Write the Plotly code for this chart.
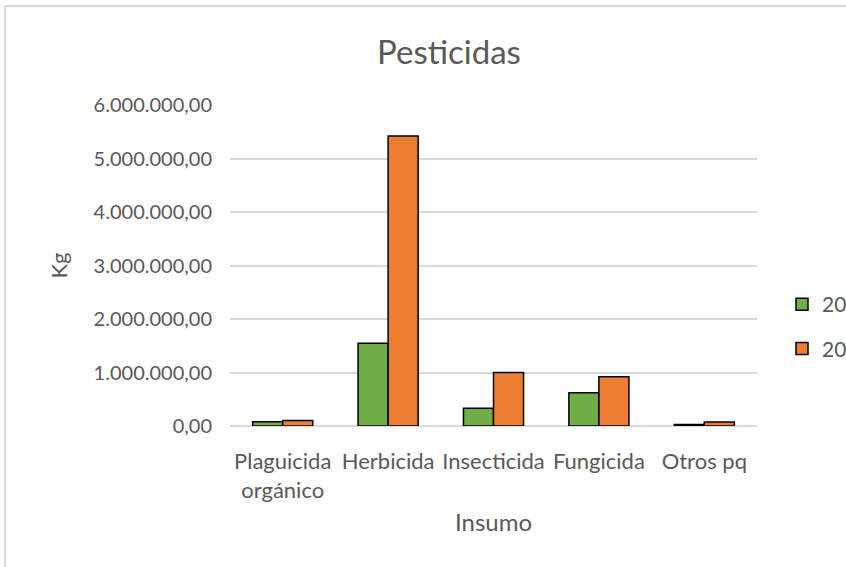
import plotly.graph_objects as go

categories = ["Plaguicida<br>orgánico", "Herbicida", "Insecticida", "Fungicida", "Otros pq"]
series_names = ["2020", "2021"]
values_a = [80000, 1545000, 330000, 620000, 30000]
values_b = [105000, 5420000, 1000000, 920000, 75000]
y_ticks = [0, 1000000, 2000000, 3000000, 4000000, 5000000, 6000000]

FONT = "Lato, Noto Sans, sans-serif"
GREY = "#595959"

fig = go.Figure()
fig.add_trace(go.Bar(x=categories, y=values_a, name=series_names[0],
                     marker=dict(color="#70ad47", line=dict(color="black", width=1.5)),
                     legendgroup="a"))
fig.add_trace(go.Bar(x=categories, y=values_b, name=series_names[1],
                     marker=dict(color="#ed7d31", line=dict(color="black", width=1.5)),
                     legendgroup="b"))

W, H = 846, 567
L, R, T, B = 230, 757, 105, 426

def px_to_paper_x(px):
    return (px - L) / (R - L)

def px_to_paper_y(py):
    return (B - py) / (B - T)

fig.update_layout(
    width=W, height=H,
    margin=dict(l=L, r=W - R, t=T, b=H - B, autoexpand=False),
    paper_bgcolor="white", plot_bgcolor="white",
    separators=",.",
    font=dict(family=FONT, color=GREY, size=20),
    title=dict(text="Pesticidas", x=449 / W, xref="container", xanchor="center",
               y=1 - 52 / H, yref="container", yanchor="middle",
               font=dict(size=33, color=GREY, family=FONT)),
    barmode="group", bargap=0.43, bargroupgap=0,
    showlegend=True,
    legend=dict(x=px_to_paper_x(782), xanchor="left", y=px_to_paper_y(284), yanchor="top",
                font=dict(size=21, color=GREY, family=FONT),
                tracegroupgap=14, traceorder="grouped", bgcolor="rgba(0,0,0,0)"),
    xaxis=dict(showline=False, showgrid=False,
               ticks="outside", ticklen=16, tickcolor="rgba(0,0,0,0)",
               tickfont=dict(size=22, color=GREY),
               title=dict(text="Insumo", font=dict(size=24, color=GREY), standoff=12)),
    yaxis=dict(range=[0, 6000000], tickvals=y_ticks, tickformat=",.2f",
               showgrid=True, gridcolor="#d9d9d9", gridwidth=1.5,
               zeroline=True, zerolinecolor="#d9d9d9", zerolinewidth=1.5,
               ticks="outside", ticklen=13, tickcolor="rgba(0,0,0,0)",
               tickfont=dict(size=20, color=GREY),
               title=dict(text="Kg", font=dict(size=22, color=GREY), standoff=19)),
    shapes=[
        dict(type="line", xref="paper", yref="paper",
             x0=px_to_paper_x(5), x1=px_to_paper_x(900),
             y0=px_to_paper_y(6), y1=px_to_paper_y(6),
             line=dict(color="#d9d9d9", width=2)),
        dict(type="line", xref="paper", yref="paper",
             x0=px_to_paper_x(5), x1=px_to_paper_x(5),
             y0=px_to_paper_y(6), y1=px_to_paper_y(600),
             line=dict(color="#d9d9d9", width=2)),
    ],
)

fig.write_html("out.html", config={"displayModeBar": False},
               post_script="document.body.style.margin='0';")
